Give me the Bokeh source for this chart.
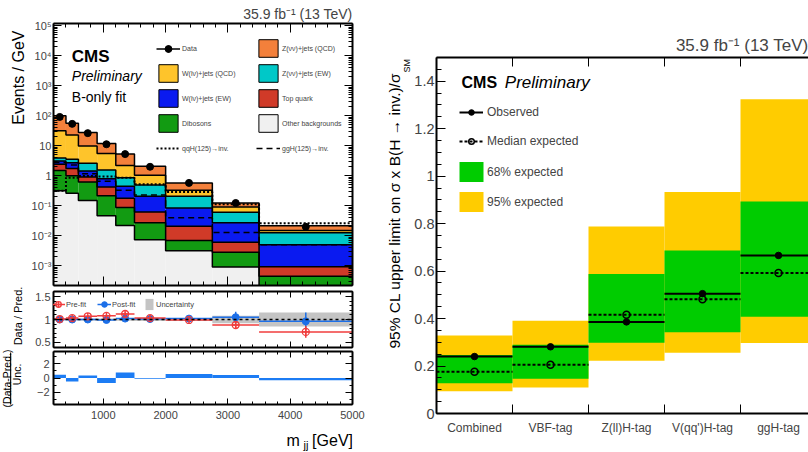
import math
import numpy as np
from bokeh.plotting import figure
from bokeh.layouts import column, row
from bokeh.models import (Range1d, LinearAxis, LogAxis, FixedTicker, Title, BoxAnnotation,
                          CustomJSTickFormatter, Label, Legend, LegendItem, Span)
from bokeh.embed import file_html
from bokeh.resources import INLINE

FONT = "Liberation Sans"
nan = float("nan")

# ---------------- left: m_jj distribution (B-only fit) ----------------
mjj_edges = [200, 400, 600, 900, 1200, 1500, 2000, 2750, 3500, 5000]
other_bkg = [0.32, 0.26, 0.15, 0.047, 0.022, 0.0074, 0.0032, 0.00091, 0.0001]
dibosons = [1.18, 0.74, 0.47, 0.168, 0.065, 0.0196, 0.0037, 0.0019, 0.00035]
top_quark = [0.95, 0.75, 0.30, 0.205, 0.093, 0.035, 0.0141, 0.0033, 0.00048]
wlnu_ew = [0.65, 1.0, 0.53, 0.38, 0.27, 0.148, 0.064, 0.0209, 0.00407]
znunu_ew = [0.8, 0.85, 1.15, 0.75, 0.42, 0.28, 0.125, 0.034, 0.0076]
wlnu_qcd = [28.1, 19.4, 7.2, 3.95, 1.33, 0.56, 0.12, 0.030, 0.0024]
znunu_qcd = [68.0, 34.0, 18.2, 6.5, 3.1, 1.05, 0.25, 0.033, 0.0065]
data_obs = [92, 54, 26.5, 11.3, 5.3, 2.0, 0.58, 0.124, 0.020]
qqh_signal = [0.32, 0.86, 0.98, 0.95, 0.87, 0.52, 0.29, 0.112, 0.026]
ggh_signal = [2.8, 2.3, 1.17, 0.66, 0.33, 0.23, 0.040, 0.013, 0.005]

prefit_ratio = [1.01, 1.03, 1.07, 1.08, 1.12, 1.03, 0.99, 0.88, 0.73]
prefit_err = [0.02, 0.02, 0.03, 0.03, 0.04, 0.04, 0.04, 0.08, 0.13]
postfit_ratio = [1.00, 1.00, 1.00, 0.99, 1.02, 1.01, 1.02, 1.05, 0.96]
postfit_err = [0.02, 0.02, 0.02, 0.03, 0.04, 0.04, 0.05, 0.12, 0.19]
fit_unc = [0.015, 0.015, 0.02, 0.02, 0.025, 0.03, 0.035, 0.08, 0.15]
pulls = [0.45, -0.5, 0.35, -0.7, 0.75, -0.1, 0.55, 0.4, -0.3]

# ---------------- right: limits per category ----------------
categories = ["Combined", "VBF-tag", "Z(ll)H-tag", "V(qq')H-tag", "ggH-tag"]
observed = [0.240, 0.281, 0.386, 0.505, 0.666]
expected = [0.176, 0.205, 0.416, 0.481, 0.592]
exp68_lo = [0.127, 0.146, 0.298, 0.342, 0.408]
exp68_hi = [0.246, 0.290, 0.588, 0.687, 0.893]
exp95_lo = [0.094, 0.110, 0.222, 0.256, 0.297]
exp95_hi = [0.329, 0.391, 0.788, 0.933, 1.324]

# ---------------- styles ----------------
C_OTHER, C_DIB, C_TOP = "#f0f0f0", "#129b12", "#d03a28"
C_WEW, C_ZEW, C_WQCD, C_ZQCD = "#0a1af0", "#00c8c8", "#fec42b", "#f3803b"
C_PRE, C_POST, C_PULL = "#f03c3c", "#1c6fe8", "#1c7cf4"
C_Y, C_G = "#ffcc00", "#00cc00"

LOG_FMT = CustomJSTickFormatter(code="""
const e = Math.round(Math.log10(tick));
if (e === 0) return "1";
if (e === 1) return "10";
const sup = {"-": "\\u207b", "0": "\\u2070", "1": "\\u00b9", "2": "\\u00b2", "3": "\\u00b3",
             "4": "\\u2074", "5": "\\u2075", "6": "\\u2076", "7": "\\u2077", "8": "\\u2078", "9": "\\u2079"};
return "10" + String(e).split("").map(c => sup[c]).join("");
""")
LIN_FMT = CustomJSTickFormatter(code="""
const v = Math.round(tick * 100) / 100;
return String(v).replace("-", "\\u2212");
""")
HIDE_FMT = CustomJSTickFormatter(code="return '';")


def base_fig(**kw):
    p = figure(output_backend="svg", toolbar_location=None,
               x_axis_location=None, y_axis_location=None,
               background_fill_color="white", border_fill_color="white",
               outline_line_color=None, **kw)
    p.grid.visible = False
    return p


def add_axis(p, place, cls, ticker, fmt=None, size=None, tick_in=8, minor_in=4,
             standoff=3, line=True):
    ax = cls(ticker=ticker)
    ax.major_tick_in, ax.major_tick_out = tick_in, 0
    ax.minor_tick_in, ax.minor_tick_out = minor_in, 0
    ax.major_tick_line_width = 1
    ax.minor_tick_line_width = 1
    ax.axis_line_color = "black" if line else None
    ax.axis_line_width = 2
    ax.major_label_text_font = FONT
    if size is None:
        ax.formatter = HIDE_FMT
        ax.major_label_text_font_size = "0px"
        ax.major_label_standoff = 0
    else:
        ax.formatter = fmt if fmt is not None else LIN_FMT
        ax.major_label_text_font_size = size
        ax.major_label_standoff = standoff
    p.add_layout(ax, place)
    return ax


def txt(p, x, y, text, size, align="left", base="middle", style="normal", angle=0.0):
    p.add_layout(Label(x=x, y=y, x_units="screen", y_units="screen", text=text,
                       text_font=FONT, text_font_size=size, text_font_style=style,
                       text_align=align, text_baseline=base, angle=angle,
                       text_color="black"))


def set_title(p, text, size, standoff):
    p.title.text = text
    p.title.align = "right"
    p.title.text_font = FONT
    p.title.text_font_size = size
    p.title.text_font_style = "normal"
    p.title.standoff = standoff
    p.title.vertical_align = "bottom"


def side_title(p, place, text, size, align, offset, standoff):
    p.add_layout(Title(text=text, align=align, offset=offset, standoff=standoff,
                       text_font=FONT, text_font_size=size, text_font_style="normal",
                       vertical_align="bottom", text_color="black"), place)


def legend(p, items, x, y, gw, gh, spacing, standoff, fs):
    lg = Legend(items=items, location=(x, y), orientation="vertical",
                glyph_width=gw, glyph_height=gh, label_height=gh, label_width=10,
                spacing=spacing, padding=0, margin=0, label_standoff=standoff,
                label_text_font=FONT, label_text_font_size=fs,
                background_fill_alpha=0, border_line_color=None)
    p.add_layout(lg)
    return lg


edges = np.array(mjj_edges, dtype=float)
left, right = edges[:-1], edges[1:]
centers = 0.5 * (left + right)
x_rng = Range1d(edges[0], edges[-1])
xt = FixedTicker(ticks=[1000, 2000, 3000, 4000, 5000],
                 minor_ticks=list(range(200, 5001, 200)))
LW, RW, PW = 24, 23, 347

# ================= top panel =================
p_top = base_fig(width=PW, height=287, min_border_left=LW, min_border_right=RW,
                 min_border_top=23, min_border_bottom=2, x_range=x_rng,
                 y_range=Range1d(2.2e-4, 1.2e5), y_axis_type="log")

components = [
    (other_bkg, C_OTHER, "Other backgrounds"),
    (dibosons, C_DIB, "Dibosons"),
    (top_quark, C_TOP, "Top quark"),
    (wlnu_ew, C_WEW, "W(lν)+jets (EW)"),
    (znunu_ew, C_ZEW, "Z(νν)+jets (EW)"),
    (wlnu_qcd, C_WQCD, "W(lν)+jets (QCD)"),
    (znunu_qcd, C_ZQCD, "Z(νν)+jets (QCD)"),
]
cum = np.zeros(len(left))
tops = []
proxies = {}
for vals, color, name in components:
    bottom = np.where(cum > 0, cum, 1e-7)
    top = cum + np.array(vals, dtype=float)
    p_top.quad(left=left, right=right, bottom=bottom, top=top,
               fill_color=color, line_color=None)
    tops.append(top)
    cum = top
    proxies[name] = p_top.quad(left=[nan], right=[nan], bottom=[nan], top=[nan],
                               fill_color=color, line_color="black", line_width=1)
for top in tops:
    p_top.step(x=edges, y=np.append(top, top[-1]), mode="after",
               line_color="black", line_width=1.5)

qqh = np.array(qqh_signal)
ggh = np.array(ggh_signal)
r_qqh = p_top.step(x=edges, y=np.append(qqh, qqh[-1]), mode="after",
                   line_color="black", line_width=2, line_dash="2 2")
r_ggh = p_top.step(x=edges, y=np.append(ggh, ggh[-1]), mode="after",
                   line_color="black", line_width=1.5, line_dash="6 4")
r_data = p_top.scatter(centers, data_obs, size=7, color="black")
r_dline = p_top.line(x=[nan], y=[nan], line_color="black", line_width=1.5)
r_dcross = p_top.scatter(x=[nan], y=[nan], marker="cross", line_color="black", line_width=1.5)

add_axis(p_top, "below", LinearAxis, xt, tick_in=9, minor_in=4)
add_axis(p_top, "above", LinearAxis, xt, tick_in=9, minor_in=4)
yt_log = FixedTicker(ticks=[10.0 ** k for k in range(-3, 6)],
                     minor_ticks=[m * 10.0 ** k for k in range(-4, 6) for m in range(2, 10)])
add_axis(p_top, "left", LogAxis, yt_log, LOG_FMT, "11px", tick_in=8, minor_in=4, standoff=2)
add_axis(p_top, "right", LogAxis, yt_log, tick_in=8, minor_in=4)
set_title(p_top, "35.9 fb⁻¹ (13 TeV)", "14px", 3)

legend(p_top, [LegendItem(label="Data", renderers=[r_dline, r_dcross, r_data])],
       103, 228, 24, 17, 3, 2, "7px")
legend(p_top, [LegendItem(label="W(lν)+jets (QCD)", renderers=[proxies["W(lν)+jets (QCD)"]]),
               LegendItem(label="W(lν)+jets (EW)", renderers=[proxies["W(lν)+jets (EW)"]]),
               LegendItem(label="Dibosons", renderers=[proxies["Dibosons"]]),
               LegendItem(label="qqH(125)→inv.", renderers=[r_qqh])],
       103, 126, 24, 22, 3, 2, "7px")
legend(p_top, [LegendItem(label="Z(νν)+jets (QCD)", renderers=[proxies["Z(νν)+jets (QCD)"]]),
               LegendItem(label="Z(νν)+jets (EW)", renderers=[proxies["Z(νν)+jets (EW)"]]),
               LegendItem(label="Top quark", renderers=[proxies["Top quark"]]),
               LegendItem(label="Other backgrounds", renderers=[proxies["Other backgrounds"]]),
               LegendItem(label="ggH(125)→inv.", renderers=[r_ggh])],
       203, 126, 24, 22, 3, 2, "7px")

txt(p_top, 18.3, 229, "CMS", "17px", style="bold")
txt(p_top, 18.3, 210, "Preliminary", "14px", style="italic")
txt(p_top, 18.3, 189, "B-only fit", "14px")

# ================= ratio panel =================
p_rat = base_fig(width=PW, height=62, min_border_left=LW, min_border_right=RW,
                 min_border_top=4, min_border_bottom=2, x_range=x_rng,
                 y_range=Range1d(0.39, 1.61))
unc = np.array(fit_unc)
r_unc = p_rat.quad(left=left, right=right, bottom=1 - unc, top=1 + unc,
                   fill_color="#c4c4c4", line_color=None)
p_rat.add_layout(Span(location=1, dimension="width", line_color="black",
                      line_dash="3 3", line_width=1.5))
post = np.array(postfit_ratio)
post_e = np.array(postfit_err)
r_post_h = p_rat.segment(x0=left, x1=right, y0=post, y1=post, line_color=C_POST, line_width=1.5)
p_rat.segment(x0=centers, x1=centers, y0=post - post_e, y1=post + post_e,
              line_color=C_POST, line_width=1.5)
r_post = p_rat.scatter(centers, post, size=7, color=C_POST)
pre = np.array(prefit_ratio)
pre_e = np.array(prefit_err)
r_pre_h = p_rat.segment(x0=left, x1=right, y0=pre, y1=pre, line_color=C_PRE, line_width=1.5)
p_rat.segment(x0=centers, x1=centers, y0=pre - pre_e, y1=pre + pre_e,
              line_color=C_PRE, line_width=1.5)
r_pre = p_rat.scatter(centers, pre, size=7, marker="circle_cross", line_color=C_PRE,
                      fill_color=None, line_width=1.3)

add_axis(p_rat, "below", LinearAxis, xt, tick_in=6, minor_in=3)
add_axis(p_rat, "above", LinearAxis, xt, tick_in=6, minor_in=3)
yt_rat = FixedTicker(ticks=[0.5, 1.0, 1.5], minor_ticks=[round(0.4 + 0.1 * i, 2) for i in range(13)])
add_axis(p_rat, "left", LinearAxis, yt_rat, LIN_FMT, "11px", tick_in=7, minor_in=3, standoff=3)
add_axis(p_rat, "right", LinearAxis, yt_rat, tick_in=7, minor_in=3)

legend(p_rat, [LegendItem(label="Pre-fit", renderers=[r_pre_h, r_pre])], -2, 35, 14, 16, 0, 1, "7.5px")
legend(p_rat, [LegendItem(label="Post-fit", renderers=[r_post_h, r_post])], 44, 35, 14, 16, 0, 1, "7.5px")
legend(p_rat, [LegendItem(label="Uncertainty", renderers=[r_unc])], 91, 36, 10, 14, 0, 2, "7.5px")

# ================= pull panel =================
p_pull = base_fig(width=PW, height=77, min_border_left=LW, min_border_right=RW,
                  min_border_top=2, min_border_bottom=22, x_range=x_rng,
                  y_range=Range1d(-3.68, 3.68))
pl = np.array(pulls)
p_pull.quad(left=left, right=right, bottom=np.minimum(pl, 0), top=np.maximum(pl, 0),
            fill_color=C_PULL, line_color=None)
add_axis(p_pull, "below", LinearAxis, xt, LIN_FMT, "11px", tick_in=6, minor_in=3, standoff=6)
add_axis(p_pull, "above", LinearAxis, xt, tick_in=6, minor_in=3)
yt_pull = FixedTicker(ticks=[-2, 0, 2], minor_ticks=[-3, -1, 1, 3])
add_axis(p_pull, "left", LinearAxis, yt_pull, LIN_FMT, "11px", tick_in=7, minor_in=3, standoff=4)
add_axis(p_pull, "right", LinearAxis, yt_pull, tick_in=7, minor_in=3)

# ---- strip under the left panels: x-axis title (frame aligned with panels) ----
s_bottom = base_fig(width=PW, height=26, x_range=Range1d(0, 1), y_range=Range1d(0, 1),
                    min_border_left=LW, min_border_right=RW, min_border_top=0,
                    min_border_bottom=0)
txt(s_bottom, 233, 12, "m", "16px", base="alphabetic")
txt(s_bottom, 250, 7.5, "jj", "11px", base="alphabetic")
txt(s_bottom, 299.5, 12, "[GeV]", "16px", align="right", base="alphabetic")

# ---- strip left of the panels: y-axis titles ----
s_left = base_fig(width=28, height=452, x_range=Range1d(0, 1), y_range=Range1d(0, 1),
                  min_border_left=0, min_border_right=0, min_border_top=0, min_border_bottom=0)
txt(s_left, 17.5, 422, "Events / GeV", "16px", align="right", angle=math.pi / 2)
txt(s_left, 17.0, 136.5, "Data / Pred.", "11px", align="center", angle=math.pi / 2)
txt(s_left, 6.7, 74, "(Data-Pred.)", "10.5px", align="center", angle=math.pi / 2)
txt(s_left, 16.5, 78, "Unc.", "10.5px", align="center", angle=math.pi / 2)
s_left.add_layout(BoxAnnotation(left=9.6, right=10.7, bottom=48, top=100,
                                left_units="screen", right_units="screen",
                                bottom_units="screen", top_units="screen",
                                fill_color="black", fill_alpha=1, line_color=None))

# ================= right: limits =================
ncat = len(categories)
p_lim = base_fig(width=433, height=452, min_border_left=61, min_border_right=0,
                 min_border_top=57, min_border_bottom=39,
                 x_range=Range1d(0, 372 / 76.0), y_range=Range1d(0, 1.5))
xl = np.arange(ncat, dtype=float)
xr = xl + 1
xc = xl + 0.5
r95 = p_lim.quad(left=xl, right=xr, bottom=exp95_lo, top=exp95_hi, fill_color=C_Y, line_color=None)
r68 = p_lim.quad(left=xl, right=xr, bottom=exp68_lo, top=exp68_hi, fill_color=C_G, line_color=None)
r_exp_l = p_lim.segment(x0=xl, x1=xr, y0=expected, y1=expected, line_color="black",
                        line_width=2, line_dash="3 2")
r_obs_l = p_lim.segment(x0=xl, x1=xr, y0=observed, y1=observed, line_color="black", line_width=2)
r_exp_m = p_lim.scatter(xc, expected, size=7, marker="circle", fill_color=None,
                        line_color="black", line_width=1.5)
r_obs_m = p_lim.scatter(xc, observed, size=6.5, color="black")

edge_t = FixedTicker(ticks=list(range(1, ncat)), minor_ticks=[])
add_axis(p_lim, "below", LinearAxis, edge_t, tick_in=9, minor_in=0)
lab_ax = add_axis(p_lim, "below", LinearAxis, FixedTicker(ticks=list(xc), minor_ticks=[]),
                  LIN_FMT, "12px", tick_in=0, minor_in=0, standoff=7, line=False)
lab_ax.major_label_overrides = {float(c): name for c, name in zip(xc, categories)}
add_axis(p_lim, "above", LinearAxis, edge_t, tick_in=9, minor_in=0)
yt_lim = FixedTicker(ticks=[round(0.2 * i, 1) for i in range(8)],
                     minor_ticks=[round(0.05 * i, 2) for i in range(31)])
add_axis(p_lim, "left", LinearAxis, yt_lim, LIN_FMT, "14.5px", tick_in=9, minor_in=5, standoff=2)
set_title(p_lim, "35.9 fb⁻¹ (13 TeV)", "17px", 5)
side_title(p_lim, "left", "SM", "9px", "left", 341, 0)
side_title(p_lim, "left", "95% CL upper limit on σ x B(H → inv.)/σ", "15.5px", "left", 65, -6)

legend(p_lim, [LegendItem(label="Observed", renderers=[r_obs_l, r_obs_m]),
               LegendItem(label="Median expected", renderers=[r_exp_l, r_exp_m])],
       23, 265, 24, 14, 15, 4, "12px")
legend(p_lim, [LegendItem(label="68% expected", renderers=[r68]),
               LegendItem(label="95% expected", renderers=[r95])],
       20, 199, 30, 25, 5, 1, "12px")

txt(p_lim, 25, 331, "CMS", "16px", style="bold")
txt(p_lim, 68.3, 331, "Preliminary", "17px", style="italic")

layout = row(row(s_left, column(p_top, p_rat, p_pull, s_bottom)), p_lim)
with open("out.html", "w", encoding="utf-8") as f:
    f.write(file_html(layout, INLINE))
